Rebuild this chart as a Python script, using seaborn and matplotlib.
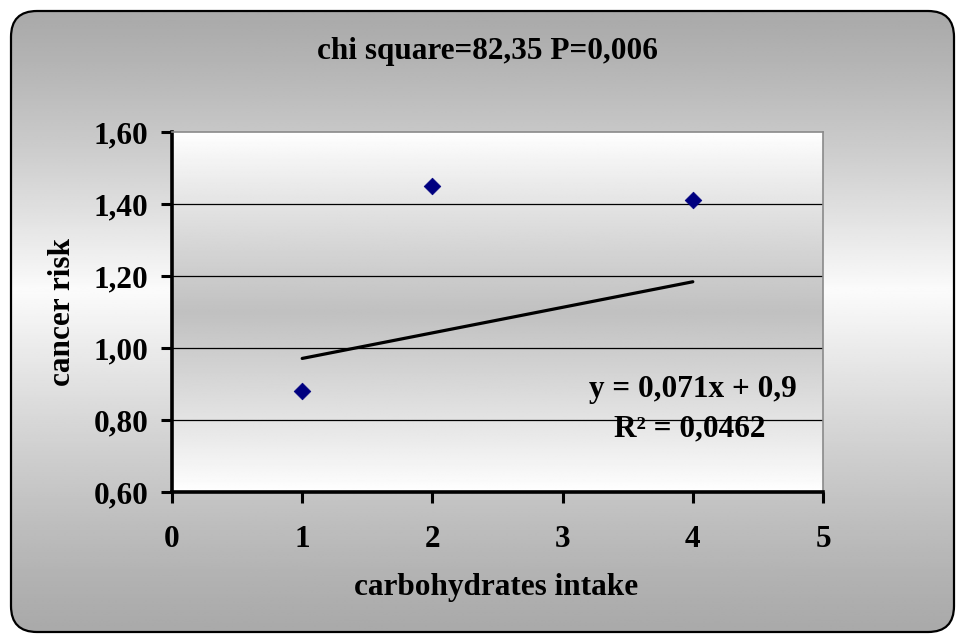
import numpy as np
import pandas as pd
import matplotlib
matplotlib.use("Agg")
import matplotlib.pyplot as plt
from matplotlib.patches import FancyBboxPatch
import seaborn as sns

# ---- data ----
intake = [1, 2, 4]
risk = [0.88, 1.45, 1.41]
trend_slope = 0.071
trend_intercept = 0.9
trend_range = [1, 4]
x_ticks = [0, 1, 2, 3, 4, 5]
y_ticks = [0.60, 0.80, 1.00, 1.20, 1.40, 1.60]
y_tick_labels = ["0,60", "0,80", "1,00", "1,20", "1,40", "1,60"]
title_text = "chi square=82,35 P=0,006"
eq_text = "y = 0,071x + 0,9"
r2_text = "R² = 0,0462"
x_label = "carbohydrates intake"
y_label = "cancer risk"

sns.set_style("white")
plt.rcParams["font.family"] = ["Liberation Serif", "DejaVu Serif"]
plt.rcParams["font.weight"] = "bold"
plt.rcParams["text.color"] = "black"
plt.rcParams["axes.labelcolor"] = "black"
plt.rcParams["xtick.color"] = "black"
plt.rcParams["ytick.color"] = "black"

FS = 22.5
W, H = 957, 635
fig = plt.figure(figsize=(W / 100, H / 100), dpi=100)
fig.patch.set_facecolor("white")

# ---- outer rounded background with vertical gradient ----
bg = fig.add_axes([0, 0, 1, 1], zorder=-5)
bg.set_xlim(0, W)
bg.set_ylim(H, 0)
bg.axis("off")
bx0, by0, bx1, by1 = 11, 11, 954, 632
t = np.linspace(0, 1, 300)
peak = 0.45
g = np.where(t < peak, t / peak, (1 - t) / (1 - peak))
g = g ** 1.2
vals = 0.665 + (0.985 - 0.665) * g
img = np.repeat(vals[:, None], 2, axis=1)
im = bg.imshow(img, cmap="gray", vmin=0, vmax=1, extent=(bx0, bx1, by1, by0),
               aspect="auto", interpolation="bilinear")
box = FancyBboxPatch((bx0, by0), bx1 - bx0, by1 - by0,
                     boxstyle="round,pad=0,rounding_size=26",
                     facecolor="none", edgecolor="black", linewidth=1.6,
                     transform=bg.transData, zorder=3)
bg.add_patch(box)
im.set_clip_path(box)

# ---- main plot area ----
L, R, T, B = 172, 823, 132, 492
ax = fig.add_axes([L / W, 1 - B / H, (R - L) / W, (B - T) / H], zorder=1)
ax.set_xlim(0, 5)
ax.set_ylim(0.6, 1.6)
ax.set_facecolor("none")

t2 = np.linspace(0, 1, 300)
g2 = 1 - np.abs(t2 - 0.5) * 2
g2 = g2 ** 0.9
vals2 = 1.0 - (1.0 - 0.755) * g2
img2 = np.repeat(vals2[:, None], 2, axis=1)
ax.imshow(img2, cmap="gray", vmin=0, vmax=1, extent=(0, 5, 0.6, 1.6),
          aspect="auto", interpolation="bilinear", zorder=0)

for yv in y_ticks[1:-1]:
    ax.axhline(yv, color="black", linewidth=0.9, zorder=1)

# trend line from equation
tx = np.array(trend_range, dtype=float)
trend_df = pd.DataFrame({"x": tx, "y": trend_slope * tx + trend_intercept})
sns.lineplot(data=trend_df, x="x", y="y", color="black", linewidth=2.3, ax=ax, zorder=3)

df = pd.DataFrame({"intake": intake, "risk": risk})
sns.scatterplot(data=df, x="intake", y="risk", marker="D", s=72, color="#000080",
                edgecolor="#000080", linewidth=0.5, ax=ax, zorder=4)

ax.set_xticks(x_ticks)
ax.set_xticklabels([str(v) for v in x_ticks])
ax.set_yticks(y_ticks)
ax.set_yticklabels(y_tick_labels)
ax.set_xlabel("")
ax.set_ylabel("")
ax.tick_params(axis="y", direction="out", length=8, width=2.2, pad=9,
               labelsize=FS, colors="black", left=True)
ax.tick_params(axis="x", direction="out", length=8, width=2.2, pad=16,
               labelsize=FS, colors="black", bottom=True)
for lab in ax.get_xticklabels() + ax.get_yticklabels():
    lab.set_fontweight("bold")

for side in ["left", "bottom"]:
    ax.spines[side].set_color("black")
    ax.spines[side].set_linewidth(2.6)
for side in ["top", "right"]:
    ax.spines[side].set_color("#8a8a8a")
    ax.spines[side].set_linewidth(1.2)
    ax.spines[side].set_visible(True)

ax.text(4.0, 0.885, eq_text, ha="center", va="center", fontsize=FS,
        fontweight="bold", color="black", zorder=5)
ax.text(3.98, 0.775, r2_text, ha="center", va="center", fontsize=FS,
        fontweight="bold", color="black", zorder=5)

fig.text(487 / W, 1 - 52 / H, title_text, ha="center", va="center",
         fontsize=FS, fontweight="bold", color="black")
fig.text(496 / W, 1 - 588 / H, x_label, ha="center", va="center",
         fontsize=FS, fontweight="bold", color="black")
fig.text(62 / W, 1 - 312 / H, y_label, ha="center", va="center",
         rotation=90, fontsize=FS, fontweight="bold", color="black")

fig.savefig("out.png", dpi=100)
